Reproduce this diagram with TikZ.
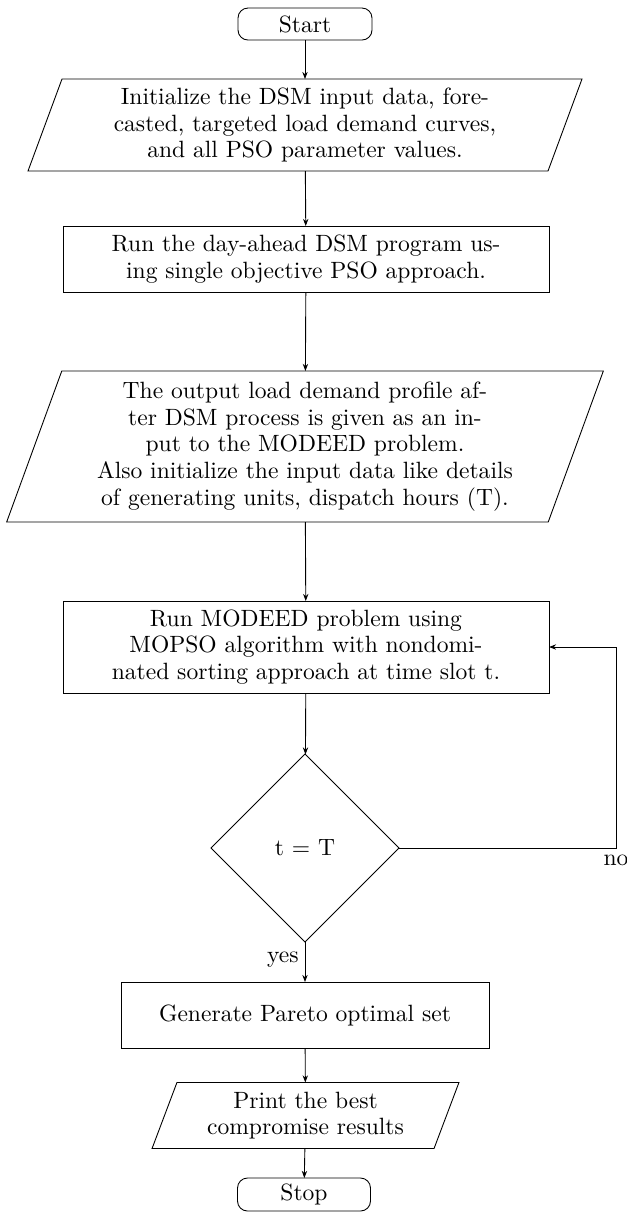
\documentclass[tikz,border=0pt]{standalone}
\usetikzlibrary{shapes.geometric,arrows.meta,calc}
\begin{document}
\begin{tikzpicture}[x=0.45pt,y=-0.45pt,
  every node/.style={inner sep=0pt, outer sep=0pt, font=\fontsize{10.6}{12}\selectfont},
  term/.style={draw, rectangle, rounded corners=4.5pt, align=center},
  procbox/.style={draw, rectangle, align=center},
  iobox/.style={rectangle, align=center},
  decbox/.style={draw, diamond, aspect=1, minimum width=84.6pt, minimum height=84.6pt},
  lbl/.style={inner sep=3.33pt},
  flow/.style={-{Stealth[length=3.2pt,width=2.4pt]}, line width=0.4pt}
]
\useasboundingbox (0,0) rectangle (627,1214);

\node[term, minimum width=60.3pt, minimum height=14.4pt] (start) at (305,24) {Start};

\node[iobox, minimum width=234pt, minimum height=41.4pt] (in1) at (305,125)
  {Initialize the DSM input data, fore-\\casted, targeted load demand curves,\\and all PSO parameter values.};
\draw ($(in1.north west)+(7.65pt,0)$) -- ($(in1.north east)+(7.65pt,0)$) -- ($(in1.south east)-(7.65pt,0)$) -- ($(in1.south west)-(7.65pt,0)$) -- cycle;

\node[procbox, minimum width=218.7pt, minimum height=29.7pt] (dsm) at (306,259)
  {Run the day-ahead DSM program us-\\ing single objective PSO approach.};

\node[iobox, minimum width=243.7pt, minimum height=67.95pt] (in2) at (305,446.5)
  {The output load demand profile af-\\ter DSM process is given as an in-\\put to the MODEED problem.\\Also initialize the input data like details\\of generating units, dispatch hours (T).};
\draw ($(in2.north west)+(12.4pt,0)$) -- ($(in2.north east)+(12.4pt,0)$) -- ($(in2.south east)-(12.4pt,0)$) -- ($(in2.south west)-(12.4pt,0)$) -- cycle;

\node[procbox, minimum width=218.7pt, minimum height=41.4pt] (mo) at (306,647)
  {Run MODEED problem using\\MOPSO algorithm with nondomi-\\nated sorting approach at time slot t.};

\node[decbox] (dec) at (305,848) {t = T};

\node[procbox, minimum width=165.6pt, minimum height=29.7pt] (par) at (305,1015)
  {Generate Pareto optimal set};

\node[iobox, minimum width=126.9pt, minimum height=29.7pt] (out) at (305.5,1115.5)
  {Print the best\\compromise results};
\draw ($(out.north west)+(5.6pt,0)$) -- ($(out.north east)+(5.6pt,0)$) -- ($(out.south east)-(5.6pt,0)$) -- ($(out.south west)-(5.6pt,0)$) -- cycle;

\node[term, minimum width=59.85pt, minimum height=14.85pt] (stop) at (304,1194.5) {Stop};

\coordinate (lp) at (616,848);

\draw[flow] (start) -- (in1);
\draw[flow] (in1) -- (dsm);
\draw[flow] (dsm) -- (in2);
\draw[flow] (in2) -- (mo);
\draw[flow] (mo) -- (dec);
\draw[flow] (dec) -- (par);
\draw[flow] (par) -- (out);
\draw[flow] (out) -- (stop);
\draw[flow] (dec.east) -- (lp) |- (mo.east);

\node[lbl, anchor=north east] (yes) at (306,945) {yes};
\node[lbl, anchor=north] (no) at (lp) {no};
\end{tikzpicture}
\end{document}
